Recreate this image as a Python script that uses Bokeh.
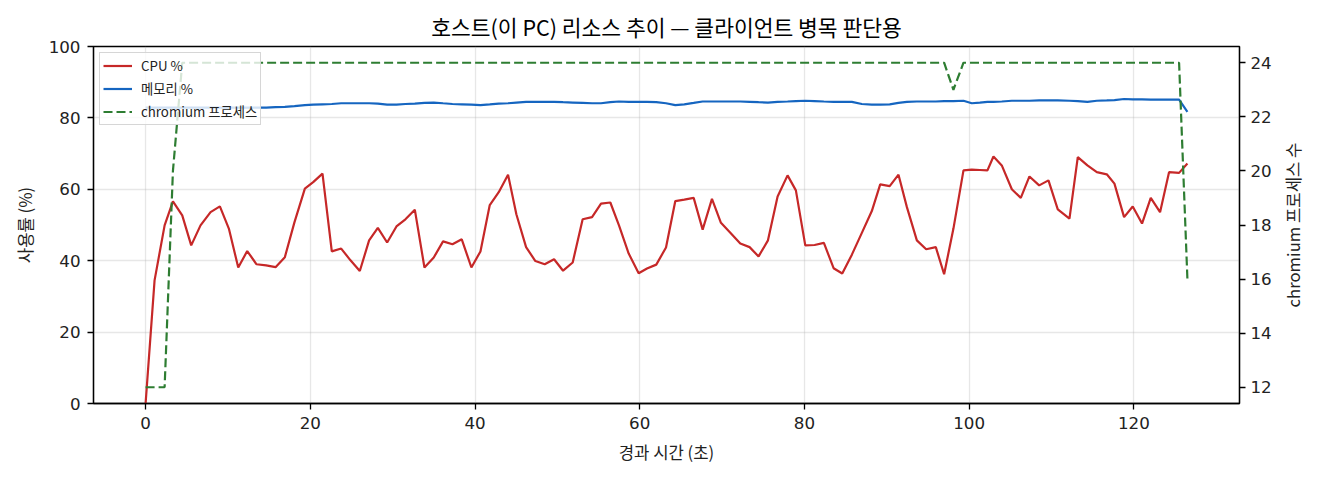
from bokeh.plotting import figure
from bokeh.layouts import row
from bokeh.models import Range1d, LinearAxis, Legend, LegendItem, FixedTicker
from bokeh.embed import file_html
from bokeh.resources import INLINE

# Data
elapsed_s = [
    0.0, 1.09, 2.31, 3.32, 4.45, 5.54, 6.67, 7.89, 9.02, 10.11,
    11.25, 12.34, 13.47, 14.64, 15.78, 16.91, 18.08, 19.34, 20.35, 21.48,
    22.61, 23.75, 24.88, 26.01, 27.14, 28.20, 29.33, 30.46, 31.55, 32.69,
    33.86, 34.99, 36.12, 37.26, 38.39, 39.56, 40.66, 41.79, 42.88, 44.01,
    45.02, 46.20, 47.33, 48.46, 49.60, 50.69, 51.86, 53.07, 54.21, 55.30,
    56.43, 57.48, 58.66, 59.87, 60.88, 62.01, 63.19, 64.32, 65.41, 66.55,
    67.64, 68.77, 69.86, 71.00, 72.21, 73.34, 74.43, 75.57, 76.74, 77.95,
    78.96, 80.10, 81.23, 82.36, 83.54, 84.59, 85.76, 86.97, 88.18, 89.20,
    90.35, 91.42, 92.44, 93.65, 94.78, 95.95, 96.96, 98.09, 99.31, 100.32,
    101.30, 102.22, 102.95, 103.96, 105.18, 106.27, 107.32, 108.50, 109.63, 110.76,
    112.18, 113.19, 114.36, 115.50, 116.71, 117.64, 118.81, 119.86, 120.99, 122.05,
    123.18, 124.27, 125.49, 126.50,
]
cpu_pct = [
    0.0, 34.5, 49.9, 56.6, 52.7, 44.3, 49.9, 53.6, 55.2, 49.0,
    38.1, 42.7, 39.0, 38.7, 38.2, 41.0, 50.8, 60.2, 62.0, 64.4,
    42.6, 43.4, 40.1, 37.1, 45.7, 49.2, 45.1, 49.6, 51.6, 54.3,
    38.1, 40.9, 45.4, 44.6, 46.0, 38.1, 42.6, 55.6, 59.2, 64.1,
    53.0, 43.8, 39.9, 39.0, 40.4, 37.2, 39.5, 51.6, 52.2, 56.0,
    56.3, 49.9, 42.0, 36.5, 37.8, 38.9, 43.7, 56.7, 57.1, 57.6,
    48.7, 57.3, 50.6, 47.8, 44.8, 43.8, 41.2, 45.7, 58.0, 63.9,
    59.7, 44.3, 44.4, 45.0, 37.9, 36.4, 41.7, 47.8, 53.9, 61.4,
    60.9, 64.1, 55.0, 45.7, 43.2, 43.8, 36.2, 49.0, 65.3, 65.5,
    65.4, 65.3, 69.2, 66.7, 60.0, 57.6, 63.6, 61.1, 62.5, 54.4,
    51.8, 69.0, 66.7, 64.8, 64.2, 61.6, 52.2, 55.2, 50.4, 57.6,
    53.6, 64.8, 64.6, 67.2,
]
mem_pct = [
    82.9, 82.9, 82.9, 82.9, 82.9, 82.9, 82.9, 82.9, 82.9, 82.9,
    82.9, 82.9, 82.9, 82.9, 83.0, 83.1, 83.3, 83.6, 83.7, 83.8,
    83.9, 84.1, 84.1, 84.1, 84.1, 84.0, 83.7, 83.7, 83.9, 84.0,
    84.2, 84.3, 84.1, 83.9, 83.8, 83.7, 83.6, 83.8, 84.0, 84.1,
    84.3, 84.5, 84.5, 84.5, 84.5, 84.4, 84.3, 84.2, 84.1, 84.1,
    84.4, 84.6, 84.5, 84.5, 84.5, 84.4, 84.1, 83.6, 83.8, 84.2,
    84.6, 84.6, 84.6, 84.6, 84.6, 84.5, 84.4, 84.3, 84.5, 84.6,
    84.7, 84.8, 84.7, 84.6, 84.5, 84.5, 84.5, 83.9, 83.7, 83.7,
    83.8, 84.2, 84.5, 84.6, 84.6, 84.6, 84.7, 84.7, 84.8, 84.1,
    84.3, 84.5, 84.5, 84.6, 84.8, 84.8, 84.8, 84.9, 84.9, 84.9,
    84.8, 84.7, 84.5, 84.8, 84.9, 85.0, 85.3, 85.2, 85.2, 85.1,
    85.1, 85.1, 85.1, 81.7,
]
chromium_procs = [
    12, 12, 12, 20, 24, 24, 24, 24, 24, 24,
    24, 24, 24, 24, 24, 24, 24, 24, 24, 24,
    24, 24, 24, 24, 24, 24, 24, 24, 24, 24,
    24, 24, 24, 24, 24, 24, 24, 24, 24, 24,
    24, 24, 24, 24, 24, 24, 24, 24, 24, 24,
    24, 24, 24, 24, 24, 24, 24, 24, 24, 24,
    24, 24, 24, 24, 24, 24, 24, 24, 24, 24,
    24, 24, 24, 24, 24, 24, 24, 24, 24, 24,
    24, 24, 24, 24, 24, 24, 24, 23, 24, 24,
    24, 24, 24, 24, 24, 24, 24, 24, 24, 24,
    24, 24, 24, 24, 24, 24, 24, 24, 24, 24,
    24, 24, 24, 16,
]
x_ticks = [0, 20, 40, 60, 80, 100, 120]
y_ticks = [0, 20, 40, 60, 80, 100]
proc_ticks = [12, 14, 16, 18, 20, 22, 24]

KR = "Noto Sans CJK KR"
NUM = "DejaVu Sans"
FS = "16.7px"

p = figure(width=1276, height=480, output_backend="svg", toolbar_location=None,
           x_range=Range1d(-6.325, 132.825), y_range=Range1d(0, 100),
           min_border_left=93, min_border_right=37, min_border_top=46, min_border_bottom=77)
p.extra_y_ranges = {"proc": Range1d(11.4, 24.6)}
p.background_fill_color = "white"
p.border_fill_color = "white"
p.outline_line_color = "black"
p.outline_line_width = 1.3

p.title.text = "호스트(이 PC) 리소스 추이 — 클라이언트 병목 판단용"
p.title.align = "center"
p.title.text_font = KR
p.title.text_font_size = "21.5px"
p.title.text_font_style = "normal"
p.title.text_color = "black"

# axes
right_axis = LinearAxis(y_range_name="proc")
p.add_layout(right_axis, "right")

for ax in [p.xaxis[0], p.yaxis[0], right_axis]:
    ax.axis_line_color = "black"
    ax.axis_line_width = 1.3
    ax.major_tick_line_color = "black"
    ax.major_tick_line_width = 1.3
    ax.major_tick_out = 6
    ax.major_tick_in = 0
    ax.minor_tick_out = 0
    ax.minor_tick_in = 0
    ax.major_label_text_font = NUM
    ax.major_label_text_font_size = FS
    ax.major_label_text_color = "#222222"
    ax.major_label_standoff = 7
    ax.axis_label_text_font = KR
    ax.axis_label_text_font_size = FS
    ax.axis_label_text_font_style = "normal"
    ax.axis_label_text_color = "#222222"

right_axis.major_label_standoff = 5
p.xaxis[0].ticker = FixedTicker(ticks=x_ticks)
p.yaxis[0].ticker = FixedTicker(ticks=y_ticks)
right_axis.ticker = FixedTicker(ticks=proc_ticks)
p.xaxis[0].axis_label = "경과 시간 (초)"
p.xaxis[0].axis_label_standoff = 8
p.yaxis[0].axis_label = "사용률 (%)"
p.yaxis[0].axis_label_standoff = 9

p.xgrid.ticker = FixedTicker(ticks=x_ticks)
p.ygrid.ticker = FixedTicker(ticks=y_ticks)
p.grid.grid_line_color = "#b0b0b0"
p.grid.grid_line_alpha = 0.3
p.grid.grid_line_width = 1.3

# series
r_cpu = p.line(elapsed_s, cpu_pct, line_color="#c62828", line_width=2.2)
r_mem = p.line(elapsed_s, mem_pct, line_color="#1565c0", line_width=2.2)
r_proc = p.line(elapsed_s, chromium_procs, y_range_name="proc",
                line_color="#2e7d32", line_width=2.2, line_dash="9 4")

legend = Legend(items=[
    LegendItem(label="CPU %", renderers=[r_cpu]),
    LegendItem(label="메모리 %", renderers=[r_mem]),
    LegendItem(label="chromium 프로세스", renderers=[r_proc]),
], location="top_left")
legend.margin = 6
legend.padding = 3
legend.spacing = 4
legend.glyph_width = 29
legend.glyph_height = 17
legend.label_height = 17
legend.label_standoff = 9
legend.label_text_font = KR
legend.label_text_font_size = "13.3px"
legend.label_text_color = "#222222"
legend.border_line_color = "#cccccc"
legend.border_line_alpha = 0.8
legend.background_fill_alpha = 0.8
p.add_layout(legend)

# narrow strip to the right carrying the secondary axis title (reads bottom to top)
side = figure(width=44, height=480, output_backend="svg", toolbar_location=None,
              x_axis_type=None, y_axis_type=None, title_location="left",
              title="chromium 프로세스 수",
              min_border_left=28, min_border_right=0, min_border_top=46, min_border_bottom=77)
side.outline_line_color = None
side.grid.visible = False
side.title.align = "center"
side.title.standoff = 5
side.title.text_font = KR
side.title.text_font_size = FS
side.title.text_font_style = "normal"
side.title.text_color = "#222222"

layout = row(p, side)
open("out.html", "w").write(file_html(layout, INLINE))
